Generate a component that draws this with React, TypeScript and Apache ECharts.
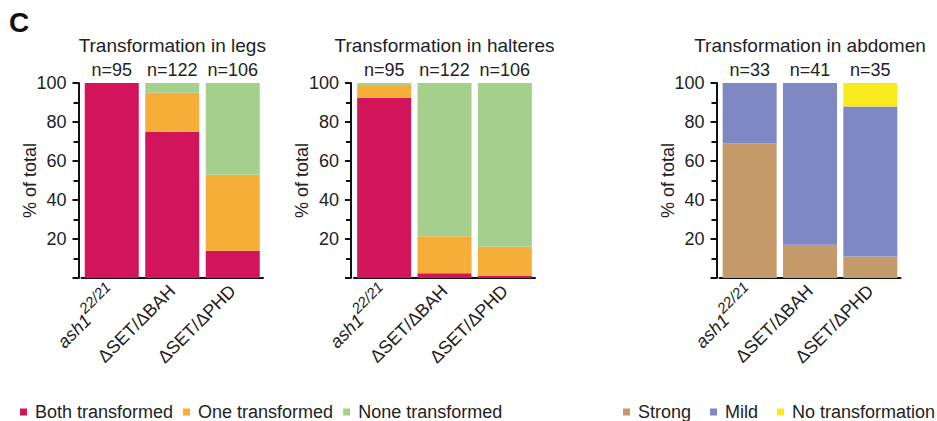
import React, { useEffect, useRef } from "react";
import * as echarts from "echarts";

const categories = ["ash1", "ΔSET/ΔBAH", "ΔSET/ΔPHD"];

const legsN = ["n=95", "n=122", "n=106"];
const legsBoth = [100, 75, 14];
const legsOne = [0, 20, 39];
const legsNone = [0, 5, 47];

const haltN = ["n=95", "n=122", "n=106"];
const haltBoth = [92.5, 2.4, 1];
const haltOne = [6, 19, 15];
const haltNone = [1.5, 78.6, 84];

const abdN = ["n=33", "n=41", "n=35"];
const abdStrong = [69, 17, 11];
const abdMild = [31, 83, 77];
const abdNone = [0, 0, 12];

const yTicks = [0, 20, 40, 60, 80, 100];

const FONT = "'Liberation Sans', Arial, sans-serif";
const TXT = "#222";
const C_BOTH = "#D2145A";
const C_ONE = "#F7AE38";
const C_NONE = "#A4D08C";
const C_STRONG = "#C59A6A";
const C_MILD = "#8088C4";
const C_NOTR = "#F8EA1C";

const grids = [
  { left: 81.5, width: 181.5, title: "Transformation in legs" },
  { left: 354, width: 181, title: "Transformation in halteres" },
  { left: 719.5, width: 181, title: "Transformation in abdomen" },
];

export default function App() {
  const ref = useRef<HTMLDivElement>(null);
  useEffect(() => {
    if (!ref.current) return;
    const chart = echarts.init(ref.current, null, { renderer: "svg" });

    const xBottom = (g: number) => ({
      type: "category",
      gridIndex: g,
      data: categories,
      position: "bottom",
      axisLine: { show: true, lineStyle: { color: "#111", width: 2 } },
      axisTick: { show: false },
      axisLabel: {
        rotate: 45,
        margin: 10,
        fontSize: 18,
        fontFamily: FONT,
        color: TXT,
        interval: 0,
        formatter: (v: string) => (v === "ash1" ? "{i|ash1}{s|22/21}" : v),
        rich: {
          i: { fontSize: 18, fontStyle: "italic", fontFamily: FONT, color: TXT, lineHeight: 26, verticalAlign: "bottom" },
          s: { fontSize: 15, fontStyle: "italic", fontFamily: FONT, color: TXT, lineHeight: 26, verticalAlign: "top", padding: [0, 0, 10, 0] },
        },
      },
    });
    const xTop = (g: number, n: string[]) => ({
      type: "category",
      gridIndex: g,
      data: n,
      position: "top",
      axisLine: { show: false },
      axisTick: { show: false },
      axisLabel: { margin: 4, fontSize: 18, fontFamily: FONT, color: TXT, interval: 0 },
    });
    const yAx = (g: number) => ({
      type: "value",
      gridIndex: g,
      min: yTicks[0],
      max: yTicks[yTicks.length - 1],
      interval: 20,
      offset: 3,
      name: "% of total",
      nameLocation: "middle",
      nameRotate: 90,
      nameGap: 40,
      nameMoveOverlap: false,
      nameTextStyle: { fontSize: 18, fontFamily: FONT, color: TXT },
      axisLine: { show: true, lineStyle: { color: "#111", width: 2 } },
      axisTick: { show: true, length: 6, lineStyle: { color: "#111", width: 2 } },
      minorTick: { show: true, splitNumber: 2, length: 5, lineStyle: { color: "#111", width: 2 } },
      splitLine: { show: false },
      axisLabel: {
        margin: 12,
        fontSize: 18,
        fontFamily: FONT,
        color: TXT,
        formatter: (v: number) => (v === 0 ? "" : String(v)),
      },
    });

    const bar = (name: string, data: number[], color: string, g: number) => ({
      type: "bar",
      name,
      data,
      stack: "s" + g,
      xAxisIndex: g * 2,
      yAxisIndex: g,
      barWidth: 54,
      itemStyle: { color },
      emphasis: { disabled: true },
    });

    const option: any = {
      animation: false,
      textStyle: { fontFamily: FONT },
      grid: grids.map((g) => ({ left: g.left, width: g.width, top: 83, height: 195 })),
      xAxis: [
        xBottom(0), xTop(0, legsN),
        xBottom(1), xTop(1, haltN),
        xBottom(2), xTop(2, abdN),
      ],
      yAxis: [yAx(0), yAx(1), yAx(2)],
      legend: [
        {
          left: 15,
          top: 398,
          width: 560,
          icon: "rect",
          itemWidth: 7,
          itemHeight: 7,
          itemGap: 10,
          data: ["Both transformed", "One transformed", "None transformed"],
          textStyle: { fontSize: 18, fontFamily: FONT, color: TXT, padding: [0, 0, 0, 3] },
        },
        {
          left: 623,
          top: 403,
          width: 314,
          padding: 0,
          icon: "rect",
          itemWidth: 7,
          itemHeight: 7,
          itemGap: 19,
          data: ["Strong", "Mild", "No transformation"],
          textStyle: { fontSize: 18, fontFamily: FONT, color: TXT, padding: [0, 0, 0, 3] },
        },
      ],
      graphic: [
        {
          type: "text",
          left: 9,
          top: 8,
          style: { text: "C", fontSize: 28, fontWeight: "bold", fontFamily: FONT, fill: "#111" },
        },
        ...grids.map((g) => ({
          type: "text",
          x: g.left + g.width / 2,
          y: 45,
          style: {
            text: g.title,
            fontSize: 19,
            fontFamily: FONT,
            fill: TXT,
            textAlign: "center",
            textVerticalAlign: "middle",
          },
        })),
      ],
      series: [
        bar("Both transformed", legsBoth, C_BOTH, 0),
        bar("One transformed", legsOne, C_ONE, 0),
        bar("None transformed", legsNone, C_NONE, 0),
        bar("Both transformed", haltBoth, C_BOTH, 1),
        bar("One transformed", haltOne, C_ONE, 1),
        bar("None transformed", haltNone, C_NONE, 1),
        bar("Strong", abdStrong, C_STRONG, 2),
        bar("Mild", abdMild, C_MILD, 2),
        bar("No transformation", abdNone, C_NOTR, 2),
      ],
    };
    chart.setOption(option);
    return () => chart.dispose();
  }, []);

  return (
    <div
      ref={ref}
      style={{ position: "fixed", left: 0, top: 0, width: 937, height: 421, background: "#fff" }}
    />
  );
}
